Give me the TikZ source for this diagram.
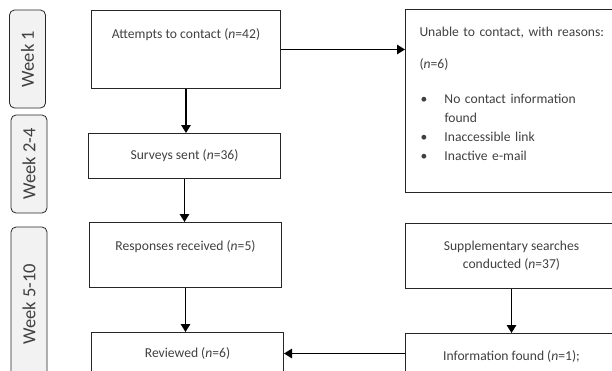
\documentclass[tikz,border=0pt]{standalone}
\usepackage{fontspec}
\setmainfont{Carlito}
\usepackage{xcolor}
\usetikzlibrary{arrows.meta}
\definecolor{ink}{HTML}{404040}
\definecolor{edge}{HTML}{262626}
\definecolor{tabfill}{HTML}{F2F2F2}
\tikzset{
  box/.style={draw=edge, line width=1pt, text=ink, inner sep=0pt,
    font=\fontsize{13.6}{19}\selectfont, anchor=north west},
  topbox/.style={box, text height=27.5pt, text depth=#1},
  week/.style={draw=edge, fill=tabfill, line width=0.8pt, rounded corners=5pt,
    rotate=90, minimum height=36pt, text=ink, font=\fontsize{18.5}{22}\selectfont},
  arr/.style={draw=black, line width=1.4pt, -{Triangle[length=8pt,width=9.5pt]}},
}
\newcommand{\nn}{\textit{n}}

\begin{document}
\begin{tikzpicture}[x=1pt,y=-1pt]
  \useasboundingbox (0,0) rectangle (612,370);
  \clip (0,0) rectangle (612,370);

  % week tabs
  \node[week, minimum width=98pt] (wkA) at (27.5,59) {Week 1};
  \node[week, minimum width=98pt] (wkB) at (29,164) {Week 2-4};
  \node[week, minimum width=155pt] (wkC) at (29,304.5) {Week 5-10};

  % left column
  \node[topbox=50.5pt, minimum width=189pt] (attempt) at (91,10)
    {Attempts to contact (\nn=42)};
  \node[box, minimum width=192pt, minimum height=45pt] (sent) at (88,133)
    {Surveys sent (\nn=36)};
  \node[topbox=37.5pt, minimum width=192pt] (recv) at (89,222)
    {Responses received (\nn=5)};
  \node[box, minimum width=192pt, minimum height=42pt] (review) at (91,332)
    {Reviewed (\nn=6)};

  % right column
  \node[box, minimum width=212pt, text width=190pt, align=left,
    inner xsep=14pt, text height=26.5pt, text depth=156.5pt] (unable) at (405,9)
    {Unable to contact, with reasons:\\[13pt]
     (\nn=6)\\[16pt]
     \makebox[25pt][l]{\hspace{1pt}\textbullet}No contact information\\
     \hspace*{25pt}found\\
     \makebox[25pt][l]{\hspace{1pt}\textbullet}Inaccessible link\\
     \makebox[25pt][l]{\hspace{1pt}\textbullet}Inactive e-mail};
  \node[box, minimum width=212pt, minimum height=65pt, align=center,
    font=\fontsize{13.6}{18}\selectfont] (supp) at (405,223)
    {Supplementary searches\\conducted (\nn=37)};
  \node[box, minimum width=212pt, minimum height=46pt] (info) at (405,333)
    {Information found (\nn=1);};

  % arrows
  \draw[arr] (attempt.east) -- (unable.west |- attempt.east);
  \draw[arr] (attempt.south) -- (attempt.south |- sent.north);
  \draw[arr] (sent.south) -- (sent.south |- recv.north);
  \draw[arr] (recv.south) -- (recv.south |- review.north);
  \draw[arr] (supp.south) -- (info.north);
  \draw[arr] (info.west |- review.east) -- (review.east);
\end{tikzpicture}
\end{document}
